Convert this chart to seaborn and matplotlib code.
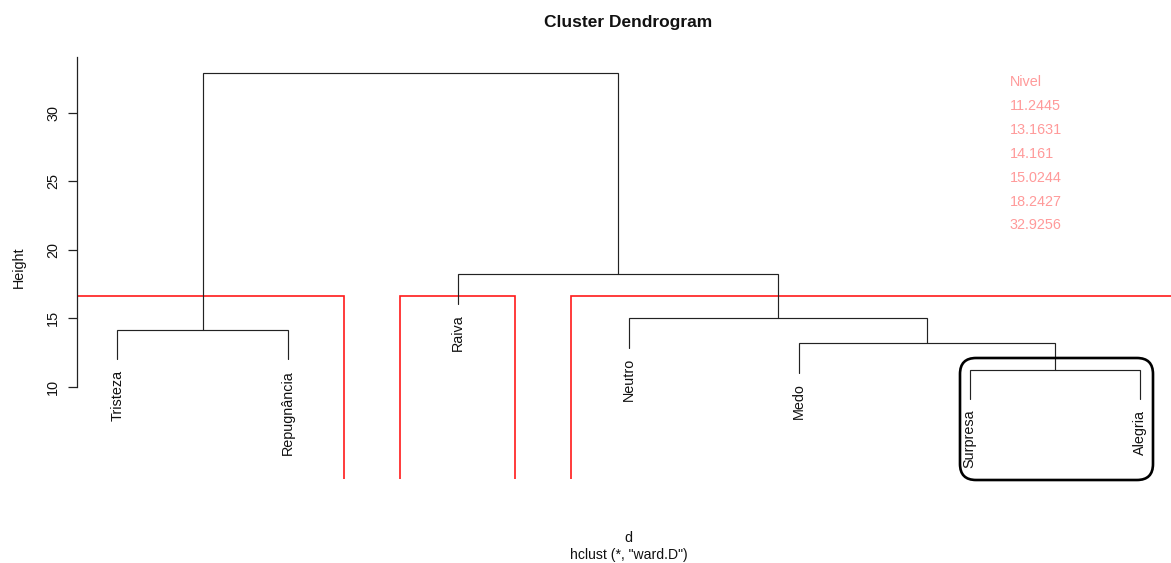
import numpy as np
import pandas as pd
import matplotlib
matplotlib.use("Agg")
import matplotlib.pyplot as plt
import seaborn as sns
from matplotlib.patches import Rectangle, FancyBboxPatch
from matplotlib.transforms import IdentityTransform

# ---- data (hclust merges, ward.D) ----
merge_left = ["Surpresa", "Medo", "Tristeza", "Neutro", "Raiva", "C3"]
merge_right = ["Alegria", "C1", "Repugnância", "C2", "C4", "C5"]
merge_heights = [11.2445, 13.1631, 14.161, 15.0244, 18.2427, 32.9256]
legend_title = "Nivel"
y_ticks = [10, 15, 20, 25, 30]
k_clusters = 3
title = "Cluster Dendrogram"
xlab = "d"
sub = 'hclust (*, "ward.D")'

# ---- build tree ----
nodes = {}
for i, (l, r, h) in enumerate(zip(merge_left, merge_right, merge_heights), start=1):
    nodes[f"C{i}"] = (l, r, h)
root = f"C{len(merge_heights)}"

order = []
def traverse(n):
    if n in nodes:
        traverse(nodes[n][0]); traverse(nodes[n][1])
    else:
        order.append(n)
traverse(root)
xpos = {name: i + 1 for i, name in enumerate(order)}
hang = 0.1 * (max(merge_heights) - min(merge_heights))

def node_x(n):
    if n in nodes:
        return (node_x(nodes[n][0]) + node_x(nodes[n][1])) / 2
    return xpos[n]

# ---- figure ----
sns.set_theme(style="white")
plt.rcParams["font.family"] = ["Liberation Sans", "DejaVu Sans"]
FS = 10.4
W, H = 1171, 563
fig = plt.figure(figsize=(W / 100, H / 100), dpi=100)
ax = fig.add_axes([76.5 / W, (H - 478.5) / H, (1181 - 76.5) / W, (478.5 - 57.3) / H])
ax.set_facecolor("white")
ax.set_xlim(0.76, len(order) + 0.24)
ax.set_ylim(3.3, 34.06)

for n, (l, r, h) in nodes.items():
    xl, xr = node_x(l), node_x(r)
    yl = nodes[l][2] if l in nodes else h - hang
    yr = nodes[r][2] if r in nodes else h - hang
    ax.plot([xl, xl, xr, xr], [yl, h, h, yr], color="#222222", lw=0.85,
            solid_joinstyle="miter")

for name in order:
    parent_h = [h for (l, r, h) in nodes.values() if name in (l, r)][0]
    ax.annotate(name, (xpos[name], parent_h - hang), xytext=(0, -7.5),
                textcoords="offset points", rotation=90, ha="center", va="top",
                fontsize=FS, color="#111111")

# ---- rect.hclust k=3 ----
hs = sorted(merge_heights, reverse=True)
cut_h = (hs[k_clusters - 2] + hs[k_clusters - 1]) / 2
clusters = []
def collect(n):
    h = nodes[n][2] if n in nodes else -1
    if h < cut_h:
        leaves = []
        def lv(m):
            if m in nodes:
                lv(nodes[m][0]); lv(nodes[m][1])
            else:
                leaves.append(m)
        lv(n)
        clusters.append(len(leaves))
    else:
        collect(nodes[n][0]); collect(nodes[n][1])
collect(root)
m = np.concatenate([[0], np.cumsum(clusters)])
ybot = ax.get_ylim()[0]
for i in range(len(clusters)):
    ax.add_patch(Rectangle((m[i] + 0.66, ybot - 1), (m[i + 1] + 0.33) - (m[i] + 0.66),
                           cut_h - (ybot - 1), fill=False, edgecolor="#ff1a1a", lw=1.2))

# ---- axes styling ----
for s in ["top", "right", "bottom"]:
    ax.spines[s].set_visible(False)
ax.spines["left"].set_color("#222222")
ax.spines["left"].set_linewidth(0.9)
ax.spines["left"].set_bounds(y_ticks[0], ax.get_ylim()[1])
ax.set_xticks([])
ax.set_yticks(y_ticks)
ax.tick_params(axis="y", left=True, length=6.3, width=0.9, color="#222222",
               labelsize=FS, labelcolor="#111111", pad=5.5)
for t in ax.get_yticklabels():
    t.set_rotation(90)
    t.set_va("center")
    t.set_ha("right")
ax.grid(False)

# ---- texts ----
fig.text(628.5 / W, 1 - 22 / H, title, ha="center", va="center",
         fontsize=FS * 1.2, fontweight="bold", color="#111111")
fig.text(18.5 / W, 1 - 267 / H, "Height", rotation=90, ha="center", va="center",
         fontsize=FS, color="#111111")
fig.text(628.5 / W, 1 - 538 / H, xlab, ha="center", va="center", fontsize=FS, color="#111111")
fig.text(628.5 / W, 1 - 555 / H, sub, ha="center", va="center", fontsize=FS * 0.97, color="#111111")

legend_items = [legend_title] + [f"{h:g}" for h in merge_heights]
for i, txt in enumerate(legend_items):
    fig.text(1010 / W, 1 - (82 + 23.9 * i) / H, txt, ha="left", va="center",
             fontsize=FS, color="#ff9a9a")

# ---- highlight box ----
box = FancyBboxPatch((960, H - 480), 1153 - 960, 480 - 358,
                     boxstyle="round,pad=0,rounding_size=16",
                     transform=IdentityTransform(), fill=False,
                     edgecolor="black", lw=1.9, clip_on=False)
fig.patches.append(box)

fig.savefig("out.png", dpi=100, facecolor="white")
